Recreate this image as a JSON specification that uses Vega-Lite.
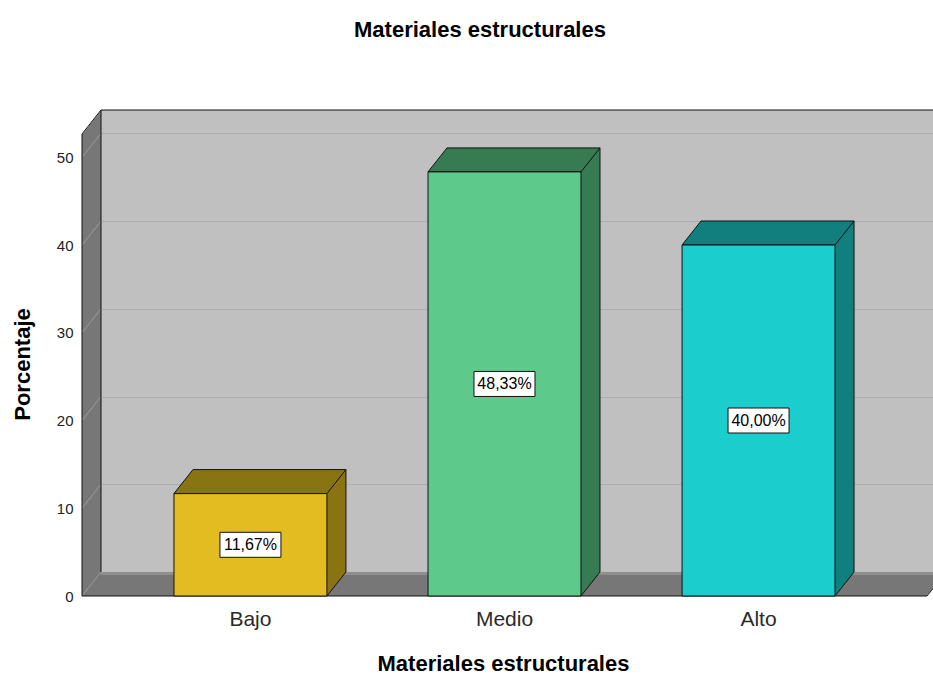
{
  "$schema": "https://vega.github.io/schema/vega-lite/v6.json",
  "width": 832,
  "height": 462,
  "autosize": "none",
  "padding": {"left": 101, "top": 110, "right": 0, "bottom": 103},
  "background": "white",
  "config": {
    "view": {"fill": "#c0c0c0", "stroke": null},
    "font": "Liberation Sans",
    "locale": {"number": {"decimal": ",", "thousands": ".", "grouping": [3], "currency": ["", "%"]}}
  },
  "title": {
    "text": "Materiales estructurales",
    "font": "Liberation Sans",
    "fontSize": 22,
    "fontWeight": "bold",
    "color": "black",
    "anchor": "middle",
    "frame": "group",
    "dx": -37,
    "offset": 66
  },
  "data": {
    "values": [
      {"categoria": "Bajo", "porcentaje": 11.67},
      {"categoria": "Medio", "porcentaje": 48.33},
      {"categoria": "Alto", "porcentaje": 40.0}
    ]
  },
  "resolve": {"scale": {"x": "independent", "y": "independent"}},
  "layer": [
    {
      "data": {"values": [{"k": 1}]},
      "encoding": {
        "x": {"datum": 0, "type": "quantitative", "scale": {"domain": [0, 1], "nice": false, "zero": false}, "axis": null}
      },
      "layer": [
        {
          "mark": {"type": "rect", "fill": "#777777", "xOffset": -19, "y2Offset": 24},
          "encoding": {
            "y": {"datum": 0, "type": "quantitative", "scale": {"domain": [0, 52.65], "nice": false, "zero": false}, "axis": null},
            "x2": {"datum": 1},
            "y2": {"datum": 0}
          }
        },
        {
          "mark": {"type": "rect", "fill": "#8f8f8f", "y2Offset": 3},
          "encoding": {
            "y": {"datum": 0, "type": "quantitative", "scale": {"domain": [0, 52.65], "nice": false, "zero": false}, "axis": null},
            "x2": {"datum": 1},
            "y2": {"datum": 0}
          }
        },
        {
          "mark": {"type": "rect", "fill": "#777777", "xOffset": -19, "y2Offset": 24},
          "encoding": {
            "y": {"datum": 52.65, "type": "quantitative", "scale": {"domain": [0, 52.65], "nice": false, "zero": false}, "axis": null},
            "x2": {"datum": 0},
            "y2": {"datum": 0}
          }
        },
        {
          "mark": {"type": "point", "shape": "M0,0L-19,0L-19,24Z", "size": 4, "filled": true, "fill": "white", "stroke": "white", "strokeWidth": 1, "opacity": 1},
          "encoding": {
            "y": {"datum": 52.65, "type": "quantitative", "scale": {"domain": [0, 52.65], "nice": false, "zero": false}, "axis": null}
          }
        },
        {
          "mark": {"type": "point", "shape": "M13,0L13,24L-6,24Z", "size": 4, "filled": true, "fill": "white", "stroke": "white", "strokeWidth": 1, "opacity": 1},
          "encoding": {
            "x": {"datum": 1, "type": "quantitative", "scale": {"domain": [0, 1], "nice": false, "zero": false}, "axis": null},
            "y": {"datum": 0, "type": "quantitative", "scale": {"domain": [0, 52.65], "nice": false, "zero": false}, "axis": null}
          }
        },
        {
          "data": {"values": [{"v": 0}, {"v": 10}, {"v": 20}, {"v": 30}, {"v": 40}, {"v": 50}]},
          "mark": {"type": "rule", "color": "#9c9c9c", "strokeWidth": 1, "xOffset": -19, "yOffset": 24},
          "encoding": {
            "y": {"field": "v", "type": "quantitative", "scale": {"domain": [0, 52.65], "nice": false, "zero": false}, "axis": null},
            "x2": {"datum": 0},
            "y2": {"field": "v"}
          }
        },
        {
          "mark": {"type": "rule", "color": "#111111", "strokeWidth": 1},
          "encoding": {
            "y": {"datum": 52.65, "type": "quantitative", "scale": {"domain": [0, 52.65], "nice": false, "zero": false}, "axis": null},
            "x2": {"datum": 1}
          }
        },
        {
          "mark": {"type": "rule", "color": "#111111", "strokeWidth": 1},
          "encoding": {
            "y": {"datum": 52.65, "type": "quantitative", "scale": {"domain": [0, 52.65], "nice": false, "zero": false}, "axis": null},
            "y2": {"datum": 0}
          }
        },
        {
          "mark": {"type": "rule", "color": "#111111", "strokeWidth": 1, "xOffset": -19, "yOffset": 24, "y2Offset": 24},
          "encoding": {
            "y": {"datum": 52.65, "type": "quantitative", "scale": {"domain": [0, 52.65], "nice": false, "zero": false}, "axis": null},
            "y2": {"datum": 0}
          }
        },
        {
          "mark": {"type": "rule", "color": "#111111", "strokeWidth": 1, "xOffset": -19, "yOffset": 24},
          "encoding": {
            "y": {"datum": 52.65, "type": "quantitative", "scale": {"domain": [0, 52.65], "nice": false, "zero": false}, "axis": null},
            "x2": {"datum": 0},
            "y2": {"datum": 52.65}
          }
        },
        {
          "mark": {"type": "rule", "color": "#111111", "strokeWidth": 1, "xOffset": -19, "x2Offset": -6, "yOffset": 24},
          "encoding": {
            "y": {"datum": 0, "type": "quantitative", "scale": {"domain": [0, 52.65], "nice": false, "zero": false}, "axis": null},
            "x2": {"datum": 1}
          }
        },
        {
          "mark": {"type": "rule", "color": "#111111", "strokeWidth": 1, "xOffset": -6, "x2Offset": 13, "yOffset": 24},
          "encoding": {
            "x": {"datum": 1, "type": "quantitative", "scale": {"domain": [0, 1], "nice": false, "zero": false}, "axis": null},
            "y": {"datum": 0, "type": "quantitative", "scale": {"domain": [0, 52.65], "nice": false, "zero": false}, "axis": null},
            "x2": {"datum": 1},
            "y2": {"datum": 0}
          }
        }
      ]
    },
    {
      "encoding": {
        "x": {
          "field": "categoria",
          "type": "nominal",
          "sort": null,
          "scale": {"type": "band", "domain": ["Bajo", "Medio", "Alto"], "paddingInner": 0.398, "paddingOuter": 0.3365, "align": 0.538},
          "axis": null
        },
        "y": {"datum": 0, "type": "quantitative", "scale": {"domain": [0, 52.65], "nice": false, "zero": true}, "axis": null}
      },
      "layer": [
        {
          "mark": {"type": "point", "shape": "M57.5,-2L57.5,24L76.5,0L76.5,-2Z", "size": 4, "filled": true, "strokeWidth": 0, "opacity": 1},
          "encoding": {
            "color": {"field": "categoria", "type": "nominal", "scale": {"domain": ["Bajo", "Medio", "Alto"], "range": ["#8a7412", "#377b52", "#127f7f"]}, "legend": null}
          }
        },
        {
          "mark": {"type": "point", "shape": "M57.5,24L76.5,0", "size": 4, "filled": false, "stroke": "#111111", "strokeWidth": 1, "opacity": 1}
        }
      ]
    },
    {
      "encoding": {
        "x": {
          "field": "categoria",
          "type": "nominal",
          "sort": null,
          "scale": {"type": "band", "domain": ["Bajo", "Medio", "Alto"], "paddingInner": 0.398, "paddingOuter": 0.3365, "align": 0.538},
          "axis": {
            "orient": "bottom",
            "offset": 24,
            "labelOffset": -19,
            "domain": false,
            "ticks": false,
            "grid": false,
            "labelAngle": 0,
            "labelFont": "Liberation Sans",
            "labelFontSize": 21,
            "labelColor": "#2a2a2a",
            "labelPadding": 12,
            "title": "Materiales estructurales",
            "titleFont": "Liberation Sans",
            "titleFontSize": 22,
            "titleFontWeight": "bold",
            "titleColor": "black",
            "titleX": 402,
            "titleY": 57
          }
        },
        "y": {
          "field": "porcentaje",
          "type": "quantitative",
          "scale": {"domain": [0, 52.65], "nice": false, "zero": true},
          "axis": {
            "orient": "left",
            "offset": 19,
            "labelOffset": 24,
            "domain": false,
            "ticks": false,
            "grid": true,
            "gridColor": "#adadad",
            "gridWidth": 1,
            "values": [0, 10, 20, 30, 40, 50],
            "labelFont": "Liberation Sans",
            "labelFontSize": 15,
            "labelColor": "#222222",
            "labelPadding": 9,
            "title": "Porcentaje",
            "titleFont": "Liberation Sans",
            "titleFontSize": 22,
            "titleFontWeight": "bold",
            "titleColor": "black",
            "titleX": -48,
            "titleY": 254
          }
        }
      },
      "layer": [
        {
          "mark": {"type": "bar", "width": 19, "xOffset": 67, "strokeWidth": 0},
          "encoding": {
            "y2": {"datum": 0},
            "color": {"field": "categoria", "type": "nominal", "scale": {"domain": ["Bajo", "Medio", "Alto"], "range": ["#8a7412", "#377b52", "#127f7f"]}, "legend": null}
          }
        },
        {
          "mark": {"type": "point", "shape": "M-95.5,24L-76.5,0L76.5,0L57.5,24Z", "size": 4, "filled": true, "stroke": "#111111", "strokeWidth": 1, "opacity": 1},
          "encoding": {
            "color": {"field": "categoria", "type": "nominal", "scale": {"domain": ["Bajo", "Medio", "Alto"], "range": ["#8a7412", "#377b52", "#127f7f"]}, "legend": null}
          }
        },
        {
          "mark": {"type": "rule", "color": "#111111", "strokeWidth": 1, "xOffset": 76.5},
          "encoding": {"y2": {"datum": 0}}
        },
        {
          "mark": {"type": "bar", "xOffset": -19, "yOffset": 24, "y2Offset": 24, "stroke": "#111111", "strokeWidth": 1},
          "encoding": {
            "fill": {"field": "categoria", "type": "nominal", "scale": {"domain": ["Bajo", "Medio", "Alto"], "range": ["#e2bc20", "#5dca8b", "#1ccdcd"]}, "legend": null}
          }
        }
      ]
    },
    {
      "encoding": {
        "x": {
          "field": "categoria",
          "type": "nominal",
          "sort": null,
          "scale": {"type": "band", "domain": ["Bajo", "Medio", "Alto"], "paddingInner": 0.398, "paddingOuter": 0.3365, "align": 0.538},
          "axis": null
        },
        "y": {"field": "porcentaje", "type": "quantitative", "scale": {"domain": [0, 105.3], "nice": false, "zero": true}, "axis": null}
      },
      "layer": [
        {
          "mark": {"type": "point", "shape": "M-30.5,-12.5L30.5,-12.5L30.5,12.5L-30.5,12.5Z", "size": 4, "filled": true, "fill": "white", "stroke": "#111111", "strokeWidth": 1, "opacity": 1, "xOffset": -19, "yOffset": 24}
        },
        {
          "mark": {"type": "text", "font": "Liberation Sans", "fontSize": 16, "color": "black", "align": "center", "baseline": "middle", "xOffset": -19, "yOffset": 24},
          "encoding": {"text": {"field": "porcentaje", "type": "quantitative", "format": "$.2f"}}
        }
      ]
    }
  ]
}
